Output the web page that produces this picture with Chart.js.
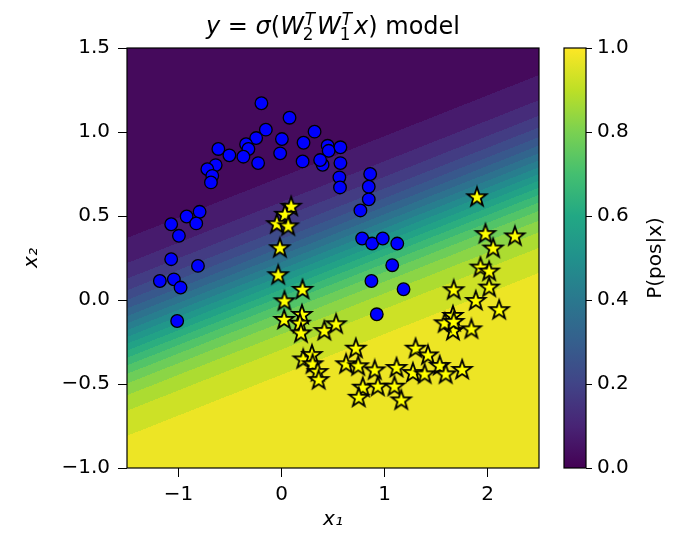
<!DOCTYPE html>
<html>
<head>
<meta charset="utf-8">
<script src="https://cdn.jsdelivr.net/npm/chart.js@4.4.0/dist/chart.umd.min.js"></script>
<style>
  body { margin: 0; background: #fff; }
  #wrap { position: relative; width: 682px; height: 534px; }
  #main { position: absolute; left: 0; top: 0; }
  #cbar { position: absolute; left: 540px; top: 0; }
</style>
</head>
<body>
<div id="wrap">
  <canvas id="main" width="682" height="534"></canvas>
  <canvas id="cbar" width="142" height="534"></canvas>
</div>
<script>
// negative class (blue circles)
const circleX = [-0.195, 0.078, -0.152, -0.246, -0.344, -0.321, -0.613, -0.506, -0.370, -0.227,
                 -0.013, 0.004, 0.214, 0.205, 0.321, 0.448, 0.458, 0.399, 0.375, 0.572,
                 0.572, 0.562, 0.568, -0.639, -0.720, -0.672, -0.685, -0.795, -0.921, -0.828,
                 -1.071, -0.996, -1.071, -0.811, -1.181, -1.045, -0.980, -1.013, 0.861, 0.847,
                 0.847, 0.766, 0.783, 0.880, 0.983, 1.124, 1.075, 0.873, 1.185, 0.925];
const circleY = [1.171, 1.085, 1.014, 0.964, 0.927, 0.899, 0.899, 0.861, 0.853, 0.815,
                 0.873, 0.958, 0.936, 0.825, 1.002, 0.918, 0.888, 0.805, 0.833, 0.909,
                 0.815, 0.730, 0.670, 0.803, 0.779, 0.739, 0.700, 0.525, 0.497, 0.456,
                 0.451, 0.382, 0.243, 0.203, 0.113, 0.123, 0.074, -0.125, 0.750, 0.674,
                 0.599, 0.533, 0.366, 0.336, 0.366, 0.336, 0.207, 0.113, 0.064, -0.085];

// positive class (yellow stars)
const starX = [0.094, 0.033, -0.045, 0.065, -0.016, -0.032, 0.204, 0.029, 0.026, 0.199,
               0.179, 0.189, 0.416, 0.530, 0.722, 0.211, 0.296, 0.302, 0.351, 0.361,
               0.627, 0.745, 0.905, 1.117, 1.302, 1.276, 1.422, 1.390, 1.536, 1.594,
               1.754, 0.789, 0.935, 1.097, 0.750, 1.163, 1.665, 1.844, 1.980, 2.266,
               2.055, 1.932, 2.016, 2.016, 1.672, 1.886, 2.113, 1.665, 1.584, 1.672, 1.898];
const starY = [0.555, 0.507, 0.451, 0.438, 0.308, 0.147, 0.060, -0.008, -0.119, -0.089,
               -0.141, -0.199, -0.185, -0.145, -0.290, -0.354, -0.328, -0.383, -0.429, -0.477,
               -0.383, -0.395, -0.419, -0.405, -0.290, -0.435, -0.330, -0.443, -0.393, -0.443,
               -0.417, -0.522, -0.516, -0.516, -0.582, -0.598, -0.185, -0.175, 0.392, 0.378,
               0.306, 0.193, 0.169, 0.074, 0.058, -0.006, -0.061, -0.095, -0.139, -0.131, 0.611];

const xTicks = [-1, 0, 1, 2];
const yTicks = [-1.0, -0.5, 0.0, 0.5, 1.0, 1.5];
const cbTicks = [0.0, 0.2, 0.4, 0.6, 0.8, 1.0];

// weights of the linear model behind the shaded background
const modelW = [1.2125, -5.0];
const modelB = 0.72;
const nLevels = 20;

const FONT = 'DejaVu Sans';

const viridis = [[68,1,84],[72,36,117],[65,68,135],[53,95,141],[42,120,142],[33,145,140],
                 [34,168,132],[68,191,112],[122,209,81],[189,223,38],[253,231,37]];

function cmap(t) {
  t = Math.min(1, Math.max(0, t)) * (viridis.length - 1);
  const i = Math.min(viridis.length - 2, Math.floor(t)), f = t - i;
  const a = viridis[i], b = viridis[i + 1];
  return [0, 1, 2].map(k => Math.round(a[k] + (b[k] - a[k]) * f));
}

function prob(x, y) {
  return 1 / (1 + Math.exp(-(modelW[0] * x + modelW[1] * y + modelB)));
}

const minus = s => String(s).replace('-', '\u2212');

function makeStar(R, fill, edge, lw) {
  const c = document.createElement('canvas');
  const s = 2 * Math.ceil(R + lw + 1);
  c.width = c.height = s;
  const g = c.getContext('2d');
  g.translate(s / 2, s / 2);
  g.beginPath();
  for (let k = 0; k < 10; k++) {
    const r = k % 2 ? R * 0.40 : R;
    const a = -Math.PI / 2 + k * Math.PI / 5;
    g.lineTo(r * Math.cos(a), r * Math.sin(a));
  }
  g.closePath();
  g.fillStyle = fill;
  g.fill();
  g.lineWidth = lw;
  g.strokeStyle = edge;
  g.lineJoin = 'miter';
  g.stroke();
  return c;
}
const starImg = makeStar(10, '#ffff00', '#000', 1.8);

// filled probability bands + axes frame
const contourBg = {
  id: 'contourBg',
  beforeDatasetsDraw(chart) {
    const {ctx, chartArea: a, scales: {x, y}} = chart;
    const w = Math.round(a.right - a.left), h = Math.round(a.bottom - a.top);
    const img = ctx.createImageData(w, h);
    const bands = [];
    for (let k = 0; k < nLevels; k++) bands.push(cmap((k + 0.5) / nLevels));
    for (let j = 0; j < h; j++) {
      const yv = y.getValueForPixel(a.top + j + 0.5);
      for (let i = 0; i < w; i++) {
        const xv = x.getValueForPixel(a.left + i + 0.5);
        const k = Math.min(nLevels - 1, Math.floor(prob(xv, yv) * nLevels));
        const c = bands[k], o = (j * w + i) * 4;
        img.data[o] = c[0];
        img.data[o + 1] = c[1];
        img.data[o + 2] = c[2];
        img.data[o + 3] = 255;
      }
    }
    ctx.putImageData(img, Math.round(a.left), Math.round(a.top));
  },
  afterDatasetsDraw(chart) {
    const {ctx, chartArea: a} = chart;
    ctx.save();
    ctx.strokeStyle = '#000';
    ctx.lineWidth = 1.2;
    ctx.strokeRect(a.left, a.top, a.right - a.left, a.bottom - a.top);
    ctx.restore();
  }
};

// title with sub/superscripts
const titleParts = [
  {text: 'y', italic: true},
  {text: ' = ', italic: false},
  {text: 'σ', italic: true},
  {text: '(', italic: false},
  {text: 'W', italic: true, sup: 'T', sub: '2'},
  {text: 'W', italic: true, sup: 'T', sub: '1'},
  {text: 'x', italic: true},
  {text: ')', italic: false},
  {text: ' model', italic: false}
];

const mathTitle = {
  id: 'mathTitle',
  afterDraw(chart) {
    const ctx = chart.ctx, size = 24, small = size * 0.7;
    const fnt = (it, s) => (it ? 'italic ' : '') + s + 'px "' + FONT + '"';
    const widths = [];
    let total = 0;
    for (const p of titleParts) {
      ctx.font = fnt(p.italic, size);
      let w = ctx.measureText(p.text).width;
      if (p.sup) {
        ctx.font = fnt(true, small);
        const ws = ctx.measureText(p.sup).width + 2;
        ctx.font = fnt(false, small);
        const wb = ctx.measureText(p.sub).width;
        w += Math.max(ws, wb) + 1;
      }
      widths.push(w);
      total += w;
    }
    let x = (chart.chartArea.left + chart.chartArea.right) / 2 - total / 2;
    const base = 34;
    ctx.save();
    ctx.fillStyle = '#000';
    ctx.textAlign = 'left';
    ctx.textBaseline = 'alphabetic';
    titleParts.forEach((p, i) => {
      ctx.font = fnt(p.italic, size);
      ctx.fillText(p.text, x, base);
      if (p.sup) {
        const wm = ctx.measureText(p.text).width;
        ctx.font = fnt(true, small);
        ctx.fillText(p.sup, x + wm + 1, base - size * 0.38);
        ctx.font = fnt(false, small);
        ctx.fillText(p.sub, x + wm - 1, base + size * 0.24);
      }
      x += widths[i];
    });
    ctx.restore();
  }
};

const tickFont = {family: FONT, size: 20};

new Chart(document.getElementById('main'), {
  type: 'scatter',
  data: {
    datasets: [
      {
        label: 'neg',
        data: circleX.map((v, i) => ({x: v, y: circleY[i]})),
        pointStyle: 'circle',
        pointRadius: 6.3,
        backgroundColor: '#0000ff',
        borderColor: '#000',
        borderWidth: 1.3
      },
      {
        label: 'pos',
        data: starX.map((v, i) => ({x: v, y: starY[i]})),
        pointStyle: starImg,
        pointRadius: 10
      }
    ]
  },
  options: {
    responsive: false,
    animation: false,
    devicePixelRatio: 1,
    layout: {padding: {left: 16, right: 143, top: 48, bottom: 0}},
    plugins: {legend: {display: false}, tooltip: {enabled: false}},
    scales: {
      x: {
        type: 'linear', min: -1.5, max: 2.5,
        afterBuildTicks: s => { s.ticks = xTicks.map(v => ({value: v})); },
        afterFit: s => { s.height = 66; },
        ticks: {callback: v => minus(v), font: tickFont, color: '#000', padding: 6, maxRotation: 0, autoSkip: false},
        grid: {drawOnChartArea: false, drawTicks: true, tickLength: 9, color: '#000'},
        border: {display: false},
        title: {display: true, text: 'x₁', color: '#000',
                font: {family: FONT, size: 20, style: 'italic'}, padding: {top: 0, bottom: 2}}
      },
      y: {
        type: 'linear', min: -1.0, max: 1.5,
        afterBuildTicks: s => { s.ticks = yTicks.map(v => ({value: v})); },
        afterFit: s => { s.width = 111; },
        ticks: {callback: v => minus(v.toFixed(1)), font: tickFont, color: '#000', padding: 8, autoSkip: false},
        grid: {drawOnChartArea: false, drawTicks: true, tickLength: 9, color: '#000'},
        border: {display: false},
        title: {display: true, text: 'x₂', color: '#000',
                font: {family: FONT, size: 20, style: 'italic'}, padding: {top: 4, bottom: 0}}
      }
    }
  },
  plugins: [contourBg, mathTitle]
});

// colorbar
const colorbarFill = {
  id: 'colorbarFill',
  beforeDatasetsDraw(chart) {
    const {ctx, chartArea: a, scales: {y}} = chart;
    const g = ctx.createLinearGradient(0, y.getPixelForValue(0), 0, y.getPixelForValue(1));
    viridis.forEach((c, i) => g.addColorStop(i / (viridis.length - 1), 'rgb(' + c.join(',') + ')'));
    ctx.save();
    ctx.fillStyle = g;
    ctx.fillRect(a.left, a.top, a.right - a.left, a.bottom - a.top);
    ctx.strokeStyle = '#000';
    ctx.lineWidth = 1.2;
    ctx.strokeRect(a.left, a.top, a.right - a.left, a.bottom - a.top);
    ctx.restore();
  },
  afterDraw(chart) {
    const ctx = chart.ctx, a = chart.chartArea;
    ctx.save();
    ctx.translate(116, (a.top + a.bottom) / 2);
    ctx.rotate(-Math.PI / 2);
    ctx.font = '20px "' + FONT + '"';
    ctx.fillStyle = '#000';
    ctx.textAlign = 'center';
    ctx.textBaseline = 'middle';
    ctx.fillText('P(pos|x)', 0, 0);
    ctx.restore();
  }
};

new Chart(document.getElementById('cbar'), {
  type: 'scatter',
  data: {datasets: [{data: []}]},
  options: {
    responsive: false,
    animation: false,
    devicePixelRatio: 1,
    layout: {padding: {left: 24, right: 0, top: 48, bottom: 66}},
    plugins: {legend: {display: false}, tooltip: {enabled: false}},
    scales: {
      x: {display: false},
      y: {
        position: 'right', min: 0, max: 1,
        afterBuildTicks: s => { s.ticks = cbTicks.map(v => ({value: v})); },
        afterFit: s => { s.width = 96; },
        ticks: {callback: v => v.toFixed(1), font: tickFont, color: '#000', padding: 5, autoSkip: false},
        grid: {drawOnChartArea: false, drawTicks: true, tickLength: 6, color: '#000'},
        border: {display: false}
      }
    }
  },
  plugins: [colorbarFill]
});
</script>
</body>
</html>
